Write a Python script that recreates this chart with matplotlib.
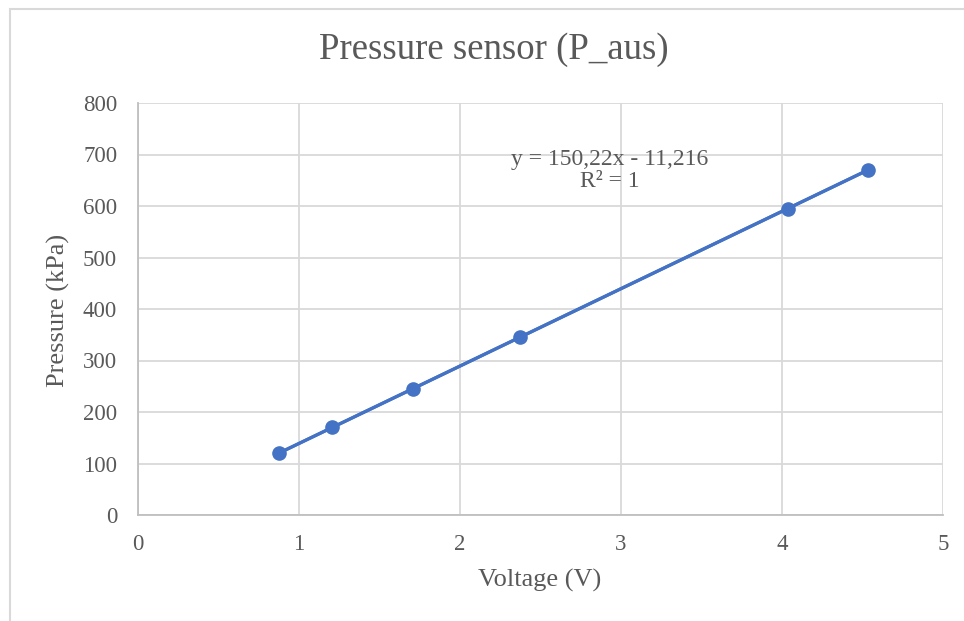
import matplotlib
matplotlib.use("Agg")
import matplotlib.pyplot as plt
import numpy as np
from matplotlib.patches import Rectangle

voltage = [0.875, 1.207, 1.706, 2.371, 4.036, 4.535]
pressure = [120, 170, 245, 345, 595, 670]
x_ticks = [0, 1, 2, 3, 4, 5]
y_ticks = [0, 100, 200, 300, 400, 500, 600, 700, 800]
title = "Pressure sensor (P_aus)"
xlabel = "Voltage (V)"
ylabel = "Pressure (kPa)"
slope, intercept = 150.22, -11.216
eq_text = "y = 150,22x - 11,216\nR² = 1"

plt.rcParams['font.family'] = ['Liberation Serif', 'DejaVu Serif']
TXT = "#595959"
BLUE = "#4472C4"

fig = plt.figure(figsize=(9.64, 6.21), dpi=100)
fig.patches.append(Rectangle((10/964, -0.1), 1.2, 1 - 8.5/621 + 0.1, transform=fig.transFigure,
                             fill=False, edgecolor="#d9d9d9", linewidth=1.5))
ax = fig.add_axes([138/964, 1 - 515/621, (943 - 138)/964, (515 - 103)/621])

ax.set_xlim(0, 5)
ax.set_ylim(0, 800)
ax.set_xticks(x_ticks)
ax.set_yticks(y_ticks)
ax.grid(True, color="#d9d9d9", linewidth=1.3)
ax.set_axisbelow(True)
for s in ["top", "right"]:
    ax.spines[s].set_visible(False)
ax.spines["left"].set_color("#bfbfbf")
ax.spines["bottom"].set_color("#bfbfbf")
ax.spines["left"].set_linewidth(1.3)
ax.spines["bottom"].set_linewidth(1.3)
ax.tick_params(length=0, labelsize=16.5, labelcolor=TXT)
ax.tick_params(axis="x", pad=14)
ax.tick_params(axis="y", pad=15)

xv = np.array(voltage)
ax.plot(xv, pressure, color=BLUE, linewidth=2.3, marker="o", markersize=9.5, zorder=3)
xt = np.array([min(voltage), max(voltage)])
ax.plot(xt, slope * xt + intercept, color=BLUE, linewidth=2.3, zorder=2)

ax.text(2.93, 669, eq_text, ha="center", va="center", fontsize=17, color=TXT,
        linespacing=1.05)

fig.text((318 + 670) / 2 / 964, 1 - 50 / 621, title, ha="center", va="center",
         fontsize=26.5, color=TXT)
fig.text(540 / 964, 1 - 580 / 621, xlabel, ha="center", va="center", fontsize=19, color=TXT)
fig.text(58 / 964, 1 - 310 / 621, ylabel, ha="center", va="center", fontsize=19,
         color=TXT, rotation=90)

fig.savefig("out.png", dpi=100, facecolor="white")
